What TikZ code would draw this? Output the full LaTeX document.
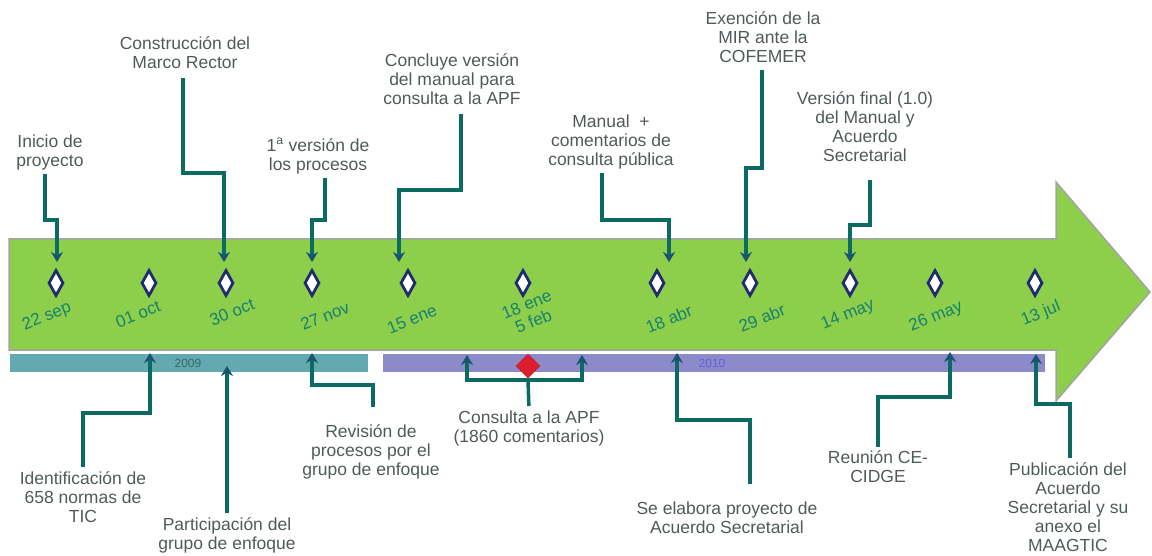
\documentclass[tikz,border=0pt]{standalone}
\usepackage{fontspec}
\setmainfont{Liberation Sans}
\usetikzlibrary{shapes.geometric,arrows.meta}
\definecolor{verde}{HTML}{8DCF4B}
\definecolor{borde}{HTML}{A3A3A3}
\definecolor{barra09}{HTML}{62AAB0}
\definecolor{barra10}{HTML}{8C8AC8}
\definecolor{azul}{HTML}{1F2D6E}
\definecolor{linea}{HTML}{0B6A62}
\definecolor{punta}{HTML}{1B5272}
\definecolor{texto}{HTML}{505A5A}
\definecolor{fechacol}{HTML}{17806F}
\definecolor{rojo}{HTML}{DC1F2E}

\begin{document}
\begin{tikzpicture}[x=1pt,y=-1pt,
  lab/.style={align=center,text=texto,font=\fontsize{17.5}{19}\selectfont,inner sep=0pt},
  fecha/.style={align=center,text=fechacol,font=\fontsize{17}{18}\selectfont,rotate=22,inner sep=0pt},
  hito/.style={diamond,draw=azul,fill=white,line width=2.8pt,minimum width=15pt,minimum height=26pt,inner sep=0pt},
  conn/.style={draw=linea,line width=3.5pt,-{Stealth[length=10pt,width=12pt,color=punta]}},
  anio/.style={font=\fontsize{12}{12}\selectfont,inner sep=0pt}]
\useasboundingbox (0,0) rectangle (1152,556);
\draw[borde,line width=1.5pt,fill=verde] (9,239) -- (1056,239) -- (1056,182) -- (1150,292) -- (1056,401) -- (1056,350) -- (9,350) -- cycle;
\fill[barra09] (10,354) rectangle (368,372);
\fill[barra10] (383,354) rectangle (1045,372);
\node[anio,text=barra09!60!black] (a09) at (188,363) {2009};
\node[anio,text=barra10!70!blue] (a10) at (712,363) {2010};
\node[hito] (d1) at (56,283) {};
\node[hito] (d2) at (149,283) {};
\node[hito] (d3) at (226,283) {};
\node[hito] (d4) at (312,283) {};
\node[hito] (d5) at (408,283) {};
\node[hito] (d6) at (523,283) {};
\node[hito] (d7) at (657,283) {};
\node[hito] (d8) at (750,283) {};
\node[hito] (d9) at (850,283) {};
\node[hito] (d10) at (935,283) {};
\node[hito] (d11) at (1035,283) {};
\node[fecha] (f1) at (47,317) {22 sep};
\node[fecha] (f2) at (138,314) {01 oct};
\node[fecha] (f3) at (232,312) {30 oct};
\node[fecha] (f4) at (325,316) {27 nov};
\node[fecha] (f5) at (412,319) {15 ene};
\node[fecha] (f6) at (530,313) {18 ene\\5 feb};
\node[fecha] (f7) at (669,319) {18 abr};
\node[fecha] (f8) at (762,318) {29 abr};
\node[fecha] (f9) at (848,315) {14 may};
\node[fecha] (f10) at (936,317) {26 may};
\node[fecha] (f11) at (1041,314) {13 jul};
\node[diamond,fill=rojo,draw=rojo!80!black,minimum width=24pt,minimum height=24pt,inner sep=0pt] (rombo) at (528,366) {};
% textos de arriba
\node[lab] (ini) at (50,152) {Inicio de\\proyecto};
\node[lab] (marco) at (185,53) {Construcción del\\Marco Rector};
\node[lab] (ver1) at (318,156) {1\textsuperscript{a} versión de\\los procesos};
\node[lab] (concl) at (452,79) {Concluye versión\\del manual para\\consulta a la APF};
\node[lab] (manual) at (611,142) {Manual~ +\\comentarios de\\consulta pública};
\node[lab] (mir) at (763,37) {Exención de la\\MIR ante la\\COFEMER};
\node[lab] (final) at (865,127) {Versión final (1.0)\\del Manual y\\Acuerdo\\Secretarial};
% textos de abajo
\node[lab] (normas) at (83,497) {Identificación de\\658 normas de\\TIC};
\node[lab] (partic) at (227,535) {Participación del\\grupo de enfoque};
\node[lab] (revis) at (371,452) {Revisión de\\procesos por el\\grupo de enfoque};
\node[lab] (apf) at (529,428) {Consulta a la APF\\(1860 comentarios)};
\node[lab] (elab) at (727,518) {Se elabora proyecto de\\Acuerdo Secretarial};
\node[lab] (reun) at (878,467) {Reunión CE-\\CIDGE};
\node[lab] (publ) at (1068,507) {Publicación del\\Acuerdo\\Secretarial y su\\anexo el\\MAAGTIC};
% puntas
\coordinate (t1) at (57,262);
\coordinate (t2) at (224,262);
\coordinate (t3) at (312,262);
\coordinate (t4) at (399,262);
\coordinate (t5) at (669,262);
\coordinate (t6) at (746,262);
\coordinate (t7) at (850,262);
\coordinate (b1) at (150,353);
\coordinate (b2) at (227,366);
\coordinate (b3) at (312,353);
\coordinate (b4) at (467,355);
\coordinate (b5) at (582,355);
\coordinate (b6) at (677,353);
\coordinate (b7) at (950,352);
\coordinate (b8) at (1036,354);
\coordinate (cj) at (528,380);
\draw[conn,shorten <=4pt] ([xshift=-5pt]ini.south) |- (t1 |- 0,220) -- (t1);
\draw[conn,shorten <=9pt] ([xshift=-2pt]marco.south) |- (t2 |- 0,173) -- (t2);
\draw[conn,shorten <=4pt] ([xshift=7pt]ver1.south) |- (t3 |- 0,220) -- (t3);
\draw[conn,shorten <=9pt] ([xshift=9pt]concl.south) |- (t4 |- 0,190) -- (t4);
\draw[conn,shorten <=4pt] ([xshift=-9pt]manual.south) |- (t5 |- 0,220) -- (t5);
\draw[conn,shorten <=7pt] ([xshift=-1pt]mir.south) |- (t6 |- 0,168) -- (t6);
\draw[conn,shorten <=18pt] ([xshift=5pt]final.south) |- (t7 |- 0,225) -- (t7);
\draw[conn,shorten <=4pt] (normas.north) |- (b1 |- 0,413) -- (b1);
\draw[conn,shorten <=4pt] (partic.north) -- (b2);
\draw[conn,shorten <=18pt] ([xshift=2pt]revis.north) |- (b3 |- 0,385) -- (b3);
\draw[conn,-,shorten <=4pt] (apf.north) -- (cj);
\draw[conn] (cj) -| (b4);
\draw[conn] (cj) -| (b5);
\draw[conn,shorten <=18pt] ([xshift=23pt]elab.north) |- (b6 |- 0,420) -- (b6);
\draw[conn,shorten <=4pt] (reun.north) |- (b7 |- 0,397) -- (b7);
\draw[conn,shorten <=4pt] ([xshift=2pt]publ.north) |- (b8 |- 0,404) -- (b8);
\end{tikzpicture}
\end{document}
